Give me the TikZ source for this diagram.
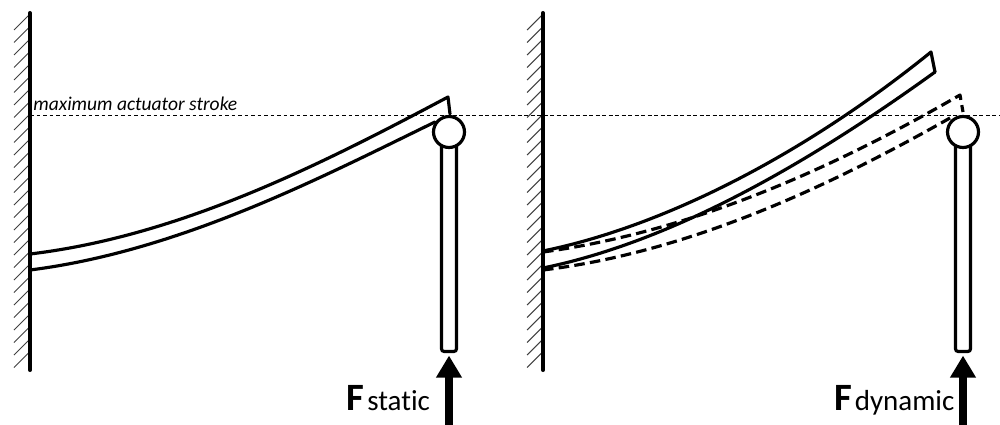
\documentclass[tikz,border=0pt]{standalone}
\usepackage{fontspec}
\setmainfont[Ligatures=NoCommon]{Carlito}
\usetikzlibrary{arrows.meta, positioning}
\tikzset{
  wallLn/.style={line width=2.3pt, line cap=round},
  hatchLn/.style={line width=0.6pt, black!75},
  beamLn/.style={line width=1.8pt, line join=round, line cap=round},
  beamDs/.style={beamLn, dash pattern=on 6pt off 3pt, line cap=butt},
  strokeLn/.style={line width=0.55pt, dash pattern=on 2.2pt off 1.5pt},
  rodBx/.style={rectangle, rounded corners=1.5pt, draw, fill=white, line width=1.8pt, minimum width=3mm, minimum height=44mm, inner sep=0pt},
  hingeC/.style={circle, draw, fill=white, line width=1.8pt, minimum size=6.2mm, inner sep=0pt},
  forceArw/.style={-{Triangle[length=4.4mm, width=4.9mm]}, line width=4.7pt},
  lblF/.style={font=\fontsize{22}{22}\selectfont\bfseries, inner sep=0pt, anchor=base west},
  lblSub/.style={font=\fontsize{16.5}{18}\selectfont, inner sep=0pt, anchor=base west},
  lblStroke/.style={font=\fontsize{11.1}{12}\selectfont\itshape, inner sep=0pt, anchor=base west}
}
\begin{document}
\begin{tikzpicture}[x=0.2mm, y=-0.2mm]
  \useasboundingbox (0,0) rectangle (1000,425);

  % ── Walls ──
  \foreach \wx in {30,543} {
    \foreach \hy in {30,42.5,...,372}
      \draw[hatchLn] (\wx-16,\hy) -- ++(15,-15);
    \draw[wallLn] (\wx,13) -- (\wx,370);
  }

  % ── Stroke limit ──
  \draw[strokeLn] (30,115) -- (1000,115);
  \node[lblStroke] (strokeLbl) at (33,111) {maximum actuator stroke};

  % ── Static beam ──
  \draw[beamLn] (30,254) .. controls (180,236) and (320,165) .. (448,97) -- (450,114);
  \draw[beamLn] (30,270) .. controls (180,251) and (320,178) .. (435,122);

  % ── Dynamic beam ──
  \draw[beamLn] (543,251) .. controls (670,225) and (810,150) .. (931,52) -- (935,72);
  \draw[beamLn] (543,268) .. controls (680,240) and (820,155) .. (935,72);
  \draw[beamDs] (543,252) .. controls (690,232) and (830,170) .. (960,95) -- (963,112);
  \draw[beamDs] (543,270) .. controls (690,252) and (830,186) .. (950,118);

  % ── Rods ──
  \node[rodBx] (rodS) at (449,241.5) {};
  \node[hingeC] (hingeS) at (449,132) {};
  \node[rodBx] (rodD) at (963,241.5) {};
  \node[hingeC] (hingeD) at (963,132) {};

  % ── Forces ──
  \coordinate (baseS) at (449,425);
  \coordinate (baseD) at (963,425);
  \draw[forceArw] (baseS) -- ([yshift=-0.5mm]rodS.south);
  \draw[forceArw] (baseD) -- ([yshift=-0.5mm]rodD.south);

  \node[lblF] (fS) at (346.5,410.5) {F};
  \node[lblSub, right=0.4mm of fS.base east, anchor=base west] (subS) {static};
  \node[lblF] (fD) at (834,410.5) {F};
  \node[lblSub, right=0.4mm of fD.base east, anchor=base west] (subD) {dynamic};
\end{tikzpicture}
\end{document}
